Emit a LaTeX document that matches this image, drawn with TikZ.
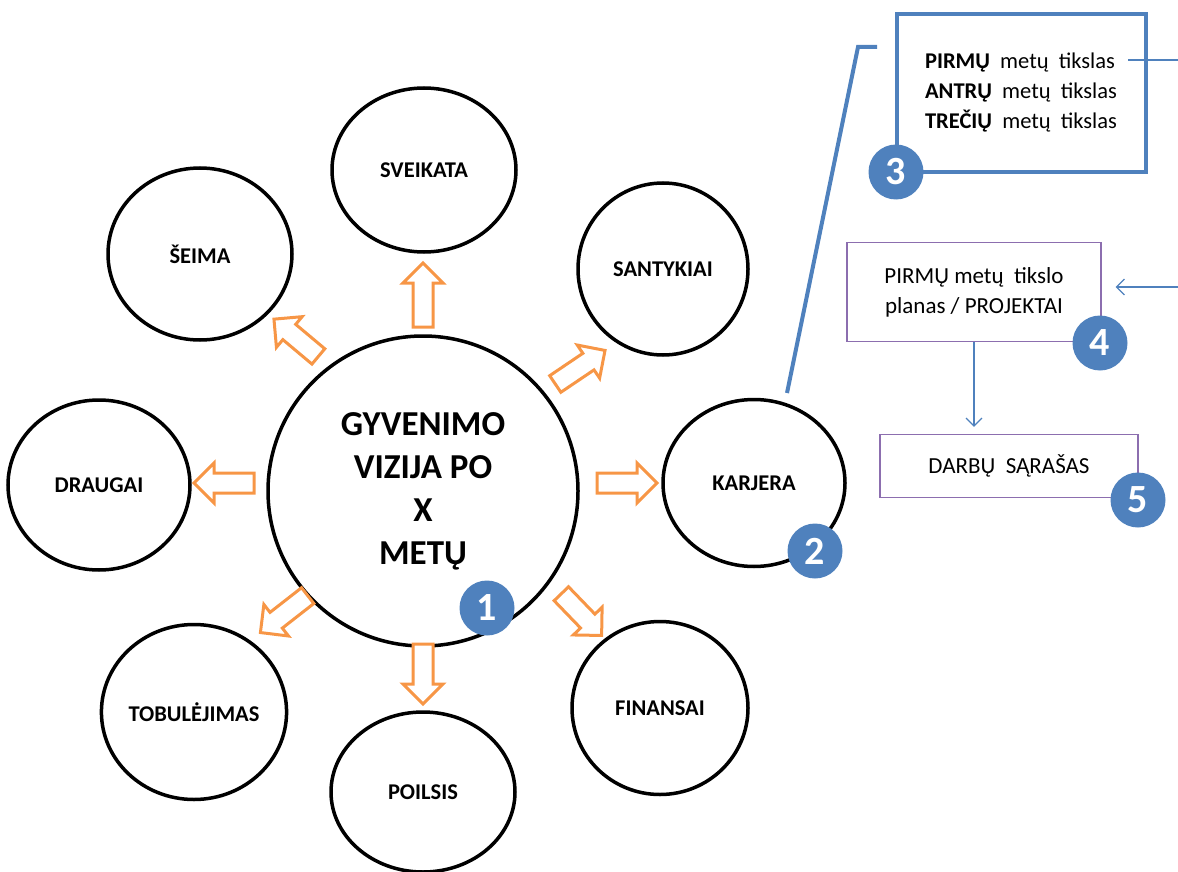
\documentclass[tikz,border=0pt]{standalone}
\usepackage{fontspec}
\setmainfont{Carlito}
\usepackage{tikz}
\usetikzlibrary{
  arrows.meta,
  shapes.geometric,
  shapes.arrows
}
\definecolor{vorange}{RGB}{247,150,70}
\definecolor{vblue}{RGB}{79,129,189}
\definecolor{vpurple}{RGB}{140,110,175}

\begin{document}
\begin{tikzpicture}[
  x=1pt, y=-1pt,
  vizija/.style={
    draw=black, line width=3.5pt,
    circle, minimum size=310pt,
    font=\fontsize{35}{43}\selectfont\bfseries, align=center
  },
  sritis/.style={
    draw=black, line width=3.5pt,
    ellipse, inner sep=0pt,
    font=\fontsize{22.5}{26}\selectfont\bfseries
  },
  rodykle/.style={
    single arrow, draw=vorange, line width=3pt, fill=white,
    minimum height=60pt, inner sep=8.5pt,
    single arrow head extend=10pt
  },
  zenklas/.style={
    circle, fill=vblue, text=white,
    minimum size=55pt, inner sep=0pt,
    font=\fontsize{40}{40}\selectfont\bfseries
  },
  tikslai/.style={
    draw=vblue, line width=4pt,
    minimum width=249pt, minimum height=157pt,
    align=left, font=\fontsize{22.5}{30}\selectfont
  },
  planas/.style={
    draw=vpurple, line width=1.2pt,
    align=center, font=\fontsize{23}{30}\selectfont
  },
  ploniai/.style={
    draw=vblue, line width=1.2pt,
    -{Straight Barb[length=8pt,width=16pt]}
  }
]
\useasboundingbox (0,0) rectangle (1178,872);

% gyvenimo sritys
\node[vizija] (viz) at (423,491) {GYVENIMO\\VIZIJA PO\\X\\METŲ};
\node[sritis, minimum width=184pt, minimum height=164pt] (sveik) at (424,170) {SVEIKATA};
\node[sritis, minimum width=184pt, minimum height=172pt] (seima) at (200,254) {ŠEIMA};
\node[sritis, minimum width=170pt, minimum height=172pt] (sant) at (663,269) {SANTYKIAI};
\node[sritis, minimum width=182pt, minimum height=170pt] (draug) at (99,485) {DRAUGAI};
\node[sritis, minimum width=182pt, minimum height=167pt] (karj) at (754,483) {KARJERA};
\node[sritis, minimum width=183pt, minimum height=175pt] (tobul) at (194,712) {TOBULĖJIMAS};
\node[sritis, minimum width=184pt, minimum height=160pt] (poil) at (423,792) {POILSIS};
\node[sritis, minimum width=176pt, minimum height=173pt] (fin) at (660,708) {FINANSAI};

% rodykles
\node[rodykle, rotate=90, minimum height=64pt] (r1) at (423,300) {};
\node[rodykle, rotate=180] (r2) at (229,483) {};
\node[rodykle, rotate=0] (r3) at (622,483) {};
\node[rodykle, rotate=-90] (r4) at (423,669) {};
\node[rodykle, rotate=140, minimum height=58pt] (r5) at (300,341) {};
\node[rodykle, rotate=34] (r6) at (576,370) {};
\node[rodykle, rotate=218] (r7) at (288,611) {};
\node[rodykle, rotate=-46, minimum height=58pt] (r8) at (578,611) {};

% tikslai
\coordinate (k1) at (787,393);
\coordinate (k2) at (858,47);
\coordinate (k3) at (877,47);
\draw[vblue, line width=4pt] (k1) -- (k2) -- (k3);
\node[tikslai] (tiks) at (1021,93) {%
  \textbf{PIRMŲ}\ \ metų\ \ tikslas\\
  \textbf{ANTRŲ}\ \ metų\ \ tikslas\\
  \textbf{TREČIŲ}\ \ metų\ \ tikslas};
\coordinate (o1) at (1128,60);
\coordinate (o2) at (1178,60);
\draw[vblue, line width=1.2pt] (o1) -- (o2);

\node[planas, minimum width=254pt, minimum height=99pt] (plan) at (974,292)
  {PIRMŲ metų\ \ tikslo\\planas / PROJEKTAI};
\node[planas, minimum width=258pt, minimum height=63pt] (darb) at (1009,466)
  {DARBŲ\ \ SĄRAŠAS};
\coordinate (i1) at (1178,287);
\draw[ploniai, shorten >=14pt] (i1) -- (plan.east |- i1);
\draw[ploniai, shorten >=7pt] (plan.south) -- (plan.south |- darb.north);

% numeriai
\node[zenklas] (n1) at (487,608) {1};
\node[zenklas] (n2) at (815,551) {2};
\node[zenklas] (n3) at (896,172) {3};
\node[zenklas] (n4) at (1100,343) {4};
\node[zenklas] (n5) at (1138,500) {5};
\end{tikzpicture}
\end{document}
